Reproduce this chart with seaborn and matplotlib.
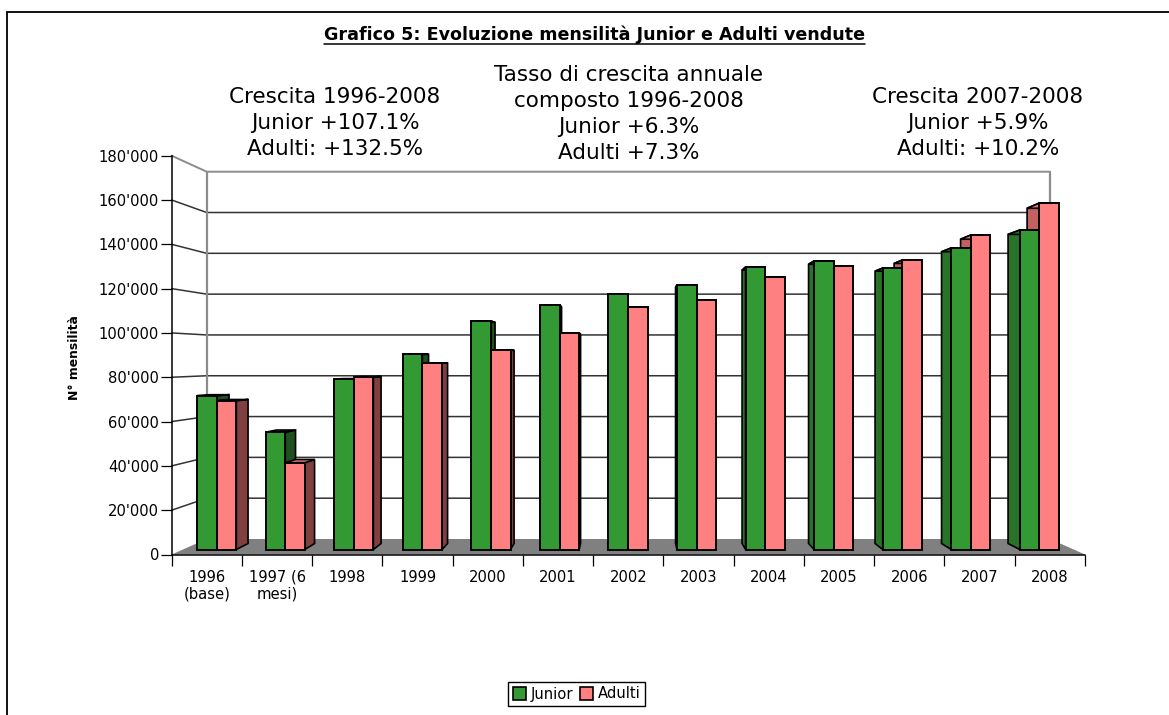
import matplotlib
matplotlib.use("Agg")
import matplotlib.pyplot as plt
from matplotlib.lines import Line2D
from matplotlib.patches import Polygon, Patch
import pandas as pd
import seaborn as sns

# Data
years = ["1996\n(base)", "1997 (6\nmesi)", "1998", "1999", "2000", "2001", "2002",
         "2003", "2004", "2005", "2006", "2007", "2008"]
junior = [71200, 54300, 78900, 90500, 105800, 113200, 118300,
          122500, 130800, 133600, 130300, 139600, 147900]
adulti = [68900, 40200, 79900, 86300, 92400, 100200, 112300,
          115500, 126200, 131200, 134000, 145600, 160400]
y_ticks = list(range(0, 180001, 20000))
title = "Grafico 5: Evoluzione mensilità Junior e Adulti vendute"
notes = [
    (335, 123, "Crescita 1996-2008\nJunior +107.1%\nAdulti: +132.5%"),
    (629, 114, "Tasso di crescita annuale\ncomposto 1996-2008\nJunior +6.3%\nAdulti +7.3%"),
    (978, 123, "Crescita 2007-2008\nJunior +5.9%\nAdulti: +10.2%"),
]

GREEN = "#339933"
PINK = "#FF8080"
W, H = 1169, 715

# Chart box in pixels (fake 3D: front axis, back wall, plane of the bars)
FRONT_L, FRONT_R, FRONT_BOTTOM, FRONT_TOP = 171.7, 1085, 554.5, 155.7
BACK_L, BACK_R, BACK_BOTTOM, BACK_TOP = 206.7, 1050, 539, 171.7
BAR_BASE, BAR_SCALE = 549.5, 0.00216
BAR_X0, BAR_STEP = 216.7, 68.56
CENTER_X = (FRONT_L + FRONT_R) / 2

sns.set_theme(style="white")
plt.rcParams["font.family"] = ["DejaVu Sans"]

fig = plt.figure(figsize=(W / 100, H / 100), dpi=100)

# background layer in pixel coordinates
bg = fig.add_axes([0, 0, 1, 1], zorder=0)
bg.set_xlim(0, W)
bg.set_ylim(H, 0)
bg.axis("off")

# frame: only left and top sides show
bg.plot([7, 7, W], [H, 11.5, 11.5], color="black", lw=1.3, solid_joinstyle="miter")

bg.add_patch(Polygon([(FRONT_L, FRONT_BOTTOM), (BACK_L, BACK_BOTTOM), (BACK_R, BACK_BOTTOM),
                      (FRONT_R, FRONT_BOTTOM)], fc="#808080", ec="none"))

max_tick = y_ticks[-1]
for v in y_ticks[1:]:
    yf = FRONT_BOTTOM - (FRONT_BOTTOM - FRONT_TOP) * v / max_tick
    yb = BACK_BOTTOM - (BACK_BOTTOM - BACK_TOP) * v / max_tick
    col = "#8c8c8c" if v == max_tick else "#333333"
    bg.plot([FRONT_L, BACK_L, BACK_R], [yf, yb, yb], color=col, lw=1.4 if v == max_tick else 1.1)
bg.plot([BACK_L, BACK_L], [BACK_TOP, BACK_BOTTOM], color="#8c8c8c", lw=1.6)
bg.plot([BACK_R, BACK_R], [BACK_TOP, BACK_BOTTOM], color="#8c8c8c", lw=1.6)

# front axis with the real ticks
ax = fig.add_axes([FRONT_L / W, 1 - FRONT_BOTTOM / H, (FRONT_R - FRONT_L) / W,
                   (FRONT_BOTTOM - FRONT_TOP) / H], zorder=1)
ax.patch.set_alpha(0)
ax.set_xlim(-0.5, len(years) - 0.5)
ax.set_ylim(0, max_tick)
sns.despine(ax=ax)
for side in ["left", "bottom"]:
    ax.spines[side].set_color("black")
    ax.spines[side].set_linewidth(1.1)
ax.set_yticks(y_ticks)
ax.set_yticklabels([f"{v:,}".replace(",", "'") for v in y_ticks], fontsize=10.6, color="black")
ax.set_xticks([i - 0.5 for i in range(len(years) + 1)])
ax.set_xticklabels([])
ax.set_xticks(range(len(years)), labels=years, minor=True, fontsize=10.6, color="black", linespacing=1.15)
ax.tick_params(axis="y", which="major", left=True, length=7.7, width=0.9, color="black", pad=1.5)
ax.tick_params(axis="x", which="major", bottom=True, length=7.7, width=0.9, color="black")
ax.tick_params(axis="x", which="minor", bottom=False, length=0, pad=11)
ax.set_ylabel("N° mensilità", fontsize=8.9, fontweight="bold", color="black")
ax.yaxis.set_label_coords((81 - FRONT_L) / (FRONT_R - FRONT_L), 0.495)

# bars, on the plane that sits between front axis and back wall
df = pd.DataFrame({
    "anno": years * 2,
    "valore": junior + adulti,
    "serie": ["Junior"] * len(years) + ["Adulti"] * len(years),
})
ax_bars = fig.add_axes([0, 0, 1, 1], zorder=2)
ax_bars.patch.set_alpha(0)
sns.barplot(data=df, x="anno", y="valore", hue="serie", order=years, hue_order=["Junior", "Adulti"],
            palette=[GREEN, PINK], width=0.572, gap=0, saturation=1, legend=False,
            edgecolor="black", linewidth=1.4, zorder=3, ax=ax_bars)
ax_bars.set_xlim(-BAR_X0 / BAR_STEP, (W - BAR_X0) / BAR_STEP)
ax_bars.set_ylim((BAR_BASE - H) / BAR_SCALE, BAR_BASE / BAR_SCALE)
ax_bars.axis("off")

side_cols = {GREEN: ("#1F5020", "#287328"), PINK: ("#804040", "#C46060")}
top_cols = {GREEN: "#267326", PINK: "#E87272"}
for bar, col in zip(ax_bars.patches, [GREEN] * len(years) + [PINK] * len(years)):
    x0, x1 = bar.get_x(), bar.get_x() + bar.get_width()
    v = bar.get_height()

    def back(x, val):
        px = BAR_X0 + x * BAR_STEP
        shift = (CENTER_X - px) * 0.03 / BAR_STEP
        lift = (6 - val * 7e-5) / BAR_SCALE
        return x + shift, val + lift

    if BAR_X0 + x1 * BAR_STEP < CENTER_X:
        edge, fill = x1, side_cols[col][0]
    elif BAR_X0 + x0 * BAR_STEP > CENTER_X:
        edge, fill = x0, side_cols[col][1]
    else:
        edge = None
    if edge is not None:
        ax_bars.add_patch(Polygon([(edge, 0), back(edge, 0), back(edge, v), (edge, v)],
                                  fc=fill, ec="black", lw=1.2, zorder=2))
    ax_bars.add_patch(Polygon([(x0, v), back(x0, v), back(x1, v), (x1, v)],
                              fc=top_cols[col], ec="black", lw=1.2, zorder=2))

for x, y, txt in notes:
    bg.text(x, y, txt, ha="center", va="center", fontsize=15.5, color="black", linespacing=1.36)

ttl = bg.text(594.5, 35, title, ha="center", va="center", fontsize=12.6, fontweight="bold", color="black")
fig.canvas.draw()
box = ttl.get_window_extent().transformed(bg.transData.inverted())
bg.add_line(Line2D([box.x0, box.x1], [43.5, 43.5], color="black", lw=1.1))

handles = [Patch(fc=GREEN, ec="black", lw=1.2, label="Junior"), Patch(fc=PINK, ec="black", lw=1.2, label="Adulti")]
leg = bg.legend(handles=handles, loc="center", bbox_to_anchor=(576.5, 694), bbox_transform=bg.transData,
                ncol=2, fontsize=10.6, frameon=True, fancybox=False, edgecolor="black", framealpha=1,
                handlelength=0.9, handleheight=0.9, handletextpad=0.3, columnspacing=0.5,
                borderpad=0.3, borderaxespad=0)
leg.get_frame().set_linewidth(1)
for t in leg.get_texts():
    t.set_color("black")

fig.savefig("out.png", dpi=100)
